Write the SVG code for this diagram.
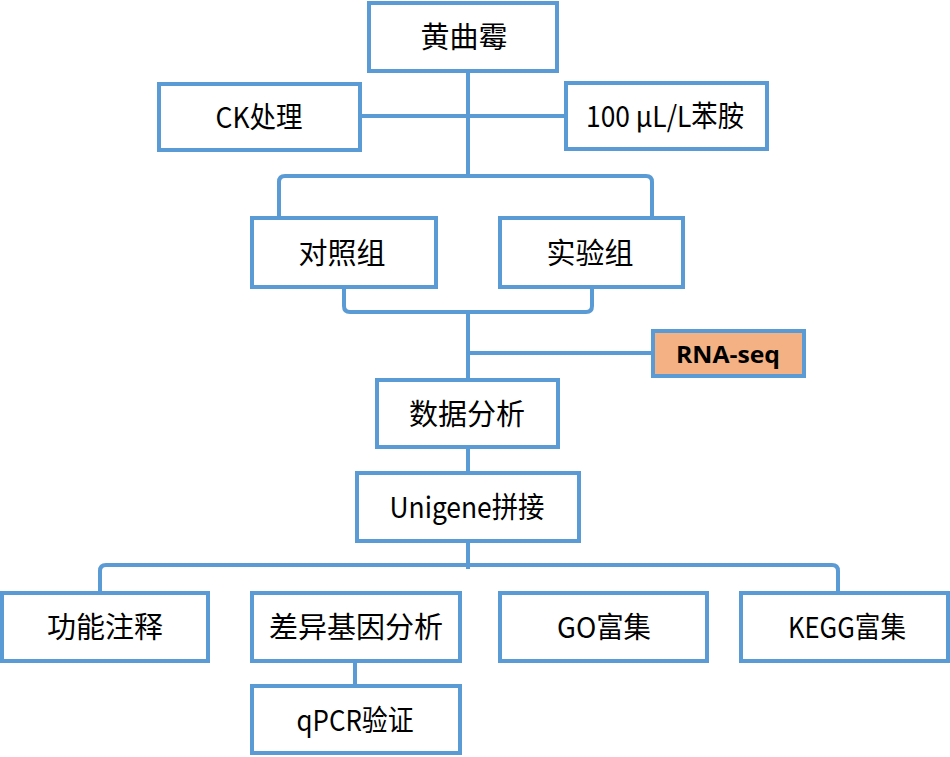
<svg xmlns="http://www.w3.org/2000/svg" width="950" height="757" viewBox="0 0 950 757">
<style>
.box{fill:#fff;stroke:#5B9BD5;stroke-width:4}
.line{fill:none;stroke:#5B9BD5;stroke-width:4}
.t{font-family:"Noto Sans CJK SC","Noto Sans",sans-serif;font-size:29px;fill:#000;text-anchor:middle;dominant-baseline:central}
.b{font-family:"Open Sans","Noto Sans",sans-serif;font-size:24px;font-weight:bold;fill:#000;text-anchor:middle;dominant-baseline:central}
</style>
<rect width="950" height="757" fill="#fff"/>
<g id="connectors">
<path class="line" d="M468 71V176"/>
<path class="line" d="M360 116H566"/>
<path class="line" d="M279 218V182Q279 176 285 176H646Q652 176 652 182V218"/>
<path class="line" d="M344 287V306Q344 312 350 312H586Q592 312 592 306V287"/>
<path class="line" d="M468 312V380"/>
<path class="line" d="M468 353H653"/>
<path class="line" d="M468 447V473"/>
<path class="line" d="M468 541V569"/>
<path class="line" d="M100 593V571Q100 565 106 565H832Q838 565 838 571V593"/>
<path class="line" d="M355 661V686"/>
</g>
<g id="n1"><rect class="box" x="369" y="3" width="188" height="68"/><text class="t" x="464" y="35">黄曲霉</text></g>
<g id="n2"><rect class="box" x="159" y="84" width="201" height="66"/><text class="t" x="259" y="115" textLength="87" lengthAdjust="spacingAndGlyphs">CK处理</text></g>
<g id="n3"><rect class="box" x="566" y="83" width="201" height="66"/><text class="t" x="665" y="114" textLength="158" lengthAdjust="spacingAndGlyphs">100 μL/L苯胺</text></g>
<g id="n4"><rect class="box" x="252" y="218" width="184" height="69"/><text class="t" x="342" y="251">对照组</text></g>
<g id="n5"><rect class="box" x="500" y="218" width="183" height="69"/><text class="t" x="590" y="251">实验组</text></g>
<g id="n6"><rect class="box" x="653" y="331" width="151" height="45" style="fill:#F4B183"/><text class="b" x="728" y="353" textLength="104" lengthAdjust="spacingAndGlyphs">RNA-seq</text></g>
<g id="n7"><rect class="box" x="377" y="380" width="181" height="67"/><text class="t" x="467" y="412">数据分析</text></g>
<g id="n8"><rect class="box" x="357" y="473" width="222" height="68"/><text class="t" x="467" y="505" textLength="155" lengthAdjust="spacingAndGlyphs">Unigene拼接</text></g>
<g id="n9"><rect class="box" x="2" y="593" width="206" height="68"/><text class="t" x="105" y="625">功能注释</text></g>
<g id="n10"><rect class="box" x="252" y="593" width="208" height="68"/><text class="t" x="356" y="625">差异基因分析</text></g>
<g id="n11"><rect class="box" x="500" y="593" width="207" height="68"/><text class="t" x="604" y="625" textLength="94" lengthAdjust="spacingAndGlyphs">GO富集</text></g>
<g id="n12"><rect class="box" x="741" y="593" width="207" height="68"/><text class="t" x="847" y="625" textLength="118" lengthAdjust="spacingAndGlyphs">KEGG富集</text></g>
<g id="n13"><rect class="box" x="252" y="686" width="208" height="67"/><text class="t" x="355" y="718" textLength="117" lengthAdjust="spacingAndGlyphs">qPCR验证</text></g>
</svg>
